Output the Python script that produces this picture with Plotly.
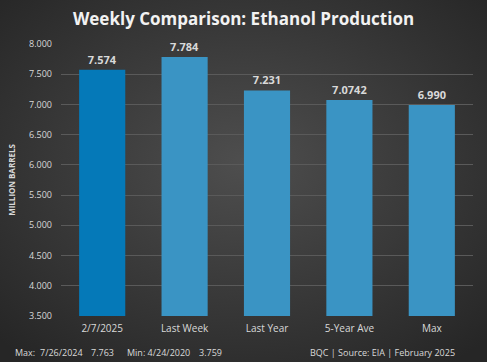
import plotly.graph_objects as go
import base64

categories = ["2/7/2025", "Last Week", "Last Year", "5-Year Ave", "Max"]
values = [7.574, 7.784, 7.231, 7.0742, 6.990]
value_labels = ["<b>7.574</b>", "<b>7.784</b>", "<b>7.231</b>", "<b>7.0742</b>", "<b>6.990</b>"]
tick_vals = [3.5, 4.0, 4.5, 5.0, 5.5, 6.0, 6.5, 7.0, 7.5, 8.0]
tick_text = ["3.500", "4.000", "4.500", "5.000", "5.500", "6.000", "6.500", "7.000", "7.500", "8.000"]
bar_colors = ["#0579B8", "#3A94C4", "#3A94C4", "#3A94C4", "#3A94C4"]
footer_left = [("Max:", 13), ("7/26/2024", 38), ("7.763", 89), ("Min: 4/24/2020", 125), ("3.759", 197)]
footer_right = "BQC | Source: EIA | February 2025"

svg = """<svg xmlns='http://www.w3.org/2000/svg' width='487' height='362'>
<defs><radialGradient id='g' cx='50%' cy='45%' r='70%'>
<stop offset='0%' stop-color='#4e4e4e'/><stop offset='100%' stop-color='#262626'/>
</radialGradient></defs><rect width='487' height='362' fill='url(#g)'/></svg>"""
bg = "data:image/svg+xml;base64," + base64.b64encode(svg.encode()).decode()

L, T, PW, PH = 61, 44, 412, 272

fig = go.Figure()
fig.add_trace(go.Bar(
    x=categories, y=values, marker=dict(color=bar_colors, line=dict(width=0)),
    width=0.56, text=value_labels, textposition="outside",
    textfont=dict(color="#D9D9D9", size=11, family="Open Sans"),
    cliponaxis=False, hoverinfo="skip",
))

annotations = []
for txt, px in footer_left:
    annotations.append(dict(text=txt, xref="paper", yref="paper",
                            x=(px - L) / PW, y=-36 / PH, xanchor="left", yanchor="middle",
                            showarrow=False,
                            font=dict(family="Open Sans", size=9, color="#D9D9D9")))
annotations.append(dict(text=footer_right, xref="paper", yref="paper",
                        x=(457 - L) / PW, y=-36 / PH, xanchor="right", yanchor="middle",
                        showarrow=False,
                        font=dict(family="Open Sans", size=9, color="#D9D9D9")))

fig.update_layout(
    width=487, height=362,
    margin=dict(l=L, r=487 - L - PW, t=T, b=362 - T - PH),
    paper_bgcolor="#3a3a3a", plot_bgcolor="rgba(0,0,0,0)",
    images=[dict(source=bg, xref="paper", yref="paper", x=-L / PW, y=1 + T / PH,
                 sizex=487 / PW, sizey=362 / PH, sizing="stretch", layer="below",
                 xanchor="left", yanchor="top")],
    title=dict(text="<b>Weekly Comparison: Ethanol Production</b>", x=0.5, xref="container",
               y=0.965, yanchor="top",
               font=dict(family="Open Sans", size=17, color="#F2F2F2")),
    showlegend=False,
    bargap=0.44,
    xaxis=dict(showgrid=False, showline=False, zeroline=False, ticks="",
               ticklabelstandoff=5,
               tickfont=dict(family="Open Sans", size=10, color="#D9D9D9")),
    yaxis=dict(range=[3.5, 8.0], tickvals=tick_vals, ticktext=tick_text,
               showgrid=True, gridcolor="#5A5A5A", gridwidth=1, zeroline=False,
               tickfont=dict(family="Open Sans", size=9, color="#D9D9D9"),
               ticklabelstandoff=8,
               title=dict(text="<b>MILLION BARRELS</b>",
                          font=dict(family="Open Sans", size=8, color="#D9D9D9"),
                          standoff=12)),
    annotations=annotations,
)
fig.write_html("out.html", config={"displayModeBar": False},
               post_script="document.body.style.margin='0';")
